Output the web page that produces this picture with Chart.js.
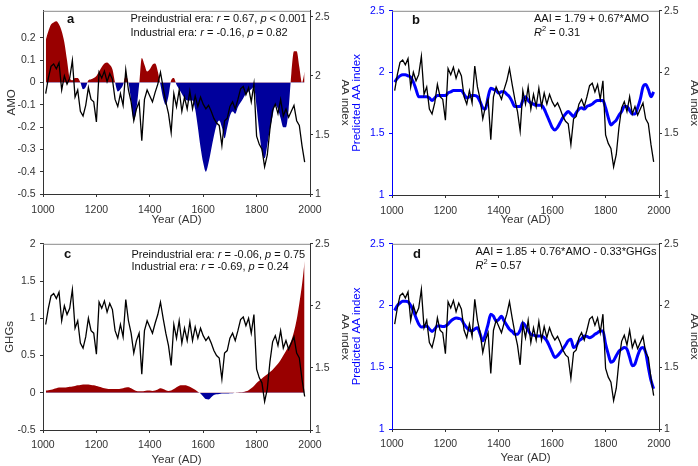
<!DOCTYPE html>
<html>
<head>
<meta charset="utf-8">
<script src="https://cdn.jsdelivr.net/npm/chart.js@4.4.0/dist/chart.umd.min.js"></script>
<style>
  body { margin: 0; background: #fff; width: 698px; height: 466px; position: relative; overflow: hidden; }
  canvas { position: absolute; display: block; }
</style>
</head>
<body>
<canvas id="ca" width="349" height="233" style="left:0;top:0"></canvas>
<canvas id="cb" width="349" height="233" style="left:349px;top:0"></canvas>
<canvas id="cc" width="349" height="233" style="left:0;top:233px"></canvas>
<canvas id="cd" width="349" height="233" style="left:349px;top:233px"></canvas>
<script>
// decadal years shared by every series
const years = [
  1010, 1020, 1030, 1040, 1050, 1060, 1070, 1080, 1090, 1100,
  1110, 1120, 1130, 1140, 1150, 1160, 1170, 1180, 1190, 1200,
  1210, 1220, 1230, 1240, 1250, 1260, 1270, 1280, 1290, 1300,
  1310, 1320, 1330, 1340, 1350, 1360, 1370, 1380, 1390, 1400,
  1410, 1420, 1430, 1440, 1450, 1460, 1470, 1480, 1490, 1500,
  1510, 1520, 1530, 1540, 1550, 1560, 1570, 1580, 1590, 1600,
  1610, 1620, 1630, 1640, 1650, 1660, 1670, 1680, 1690, 1700,
  1710, 1720, 1730, 1740, 1750, 1760, 1770, 1780, 1790, 1800,
  1810, 1820, 1830, 1840, 1850, 1860, 1870, 1880, 1890, 1900,
  1910, 1920, 1930, 1940, 1950, 1960, 1970, 1980
];

// observed AA index (black line, all panels)
const aaIndex = [
  1.85, 1.98, 2.08, 2.10, 2.06, 2.11, 1.88, 2.00, 1.93, 1.98,
  2.13, 1.82, 1.88, 1.70, 1.66, 1.75, 1.90, 1.80, 1.78, 1.61,
  2.03, 1.98, 2.04, 1.95, 2.02, 1.97, 1.80, 1.74, 1.85, 1.75,
  2.05, 1.88, 1.78, 1.62, 1.72, 1.78, 1.45, 1.80, 1.88, 1.83,
  1.78, 1.86, 1.93, 2.03, 1.90, 1.78, 1.68, 1.52, 1.85, 1.74,
  1.88, 1.70, 1.82, 1.72, 1.87, 1.72, 1.83, 1.74, 1.82, 1.76,
  1.72, 1.75, 1.70, 1.64, 1.60, 1.58, 1.41, 1.62, 1.64, 1.74,
  1.78, 1.72, 1.80, 1.89, 1.91, 1.84, 1.90, 1.78, 1.93, 1.49,
  1.42, 1.38, 1.23, 1.33, 1.55, 1.71, 1.76, 1.68, 1.80, 1.66,
  1.72, 1.65, 1.70, 1.75, 1.62, 1.58, 1.41, 1.27
];

// AMO (panel a fill)
const amo = [
  0.19, 0.23, 0.26, 0.27, 0.275, 0.26, 0.23, 0.18, 0.10, 0.02,
  0.01, 0.02, 0.02, 0.0, -0.03, -0.02, 0.01, 0.015, 0.02, 0.03,
  0.05, 0.07, 0.085, 0.09, 0.08, 0.06, 0.0, -0.04, -0.03, -0.01,
  0.03, 0.0, -0.08, -0.17, -0.12, -0.01, 0.11, 0.08, 0.05, 0.06,
  0.08, 0.085, 0.05, -0.01, -0.07, -0.10, -0.06, 0.01, 0.02, -0.01,
  -0.03, -0.05, -0.07, -0.08, -0.08, -0.08, -0.12, -0.20, -0.29, -0.36,
  -0.40, -0.36, -0.30, -0.24, -0.19, -0.17, -0.20, -0.25, -0.20, -0.15,
  -0.13, -0.14, -0.11, -0.09, -0.07, -0.05, -0.04, -0.03, -0.02, -0.11,
  -0.22, -0.31, -0.34, -0.28, -0.21, -0.15, -0.10, -0.12, -0.16, -0.20,
  -0.20, -0.12, 0.04, 0.14, 0.14, 0.07, 0.0, 0.05
];

// GHGs (panel c fill)
const ghgs = [
  0.03, 0.035, 0.04, 0.05, 0.06, 0.07, 0.07, 0.07, 0.075, 0.08,
  0.085, 0.09, 0.10, 0.105, 0.11, 0.11, 0.11, 0.105, 0.10, 0.09,
  0.08, 0.07, 0.06, 0.055, 0.05, 0.05, 0.05, 0.05, 0.055, 0.06,
  0.07, 0.075, 0.06, 0.04, 0.025, 0.02, 0.02, 0.025, 0.03, 0.03,
  0.025, 0.03, 0.045, 0.06, 0.05, 0.035, 0.025, 0.03, 0.05, 0.075,
  0.095, 0.10, 0.10, 0.095, 0.08, 0.06, 0.04, 0.015, -0.01, -0.05,
  -0.085, -0.09, -0.06, -0.03, -0.02, -0.015, -0.01, -0.01, -0.01, -0.005,
  -0.005, 0.0, 0.003, 0.006, 0.01, 0.02, 0.035, 0.06, 0.09, 0.13,
  0.16, 0.19, 0.22, 0.25, 0.28, 0.31, 0.35, 0.39, 0.44, 0.50,
  0.56, 0.62, 0.70, 0.82, 0.98, 1.20, 1.45, 1.77
];

// predicted AA index, AMO only (panel b)
const predB = [
  1.92, 1.95, 1.97, 1.98, 1.98, 1.97, 1.96, 1.92, 1.86, 1.80,
  1.80, 1.80, 1.80, 1.79, 1.77, 1.79, 1.81, 1.81, 1.81, 1.81,
  1.83, 1.84, 1.85, 1.85, 1.85, 1.85, 1.82, 1.79, 1.80, 1.81,
  1.81, 1.80, 1.76, 1.71, 1.70, 1.80, 1.87, 1.86, 1.85, 1.83,
  1.84, 1.84, 1.82, 1.80, 1.76, 1.72, 1.72, 1.72, 1.77, 1.80,
  1.77, 1.75, 1.74, 1.73, 1.73, 1.73, 1.70, 1.65, 1.60, 1.55,
  1.53, 1.55, 1.59, 1.63, 1.66, 1.68, 1.66, 1.64, 1.67, 1.70,
  1.71, 1.70, 1.72, 1.73, 1.74, 1.76, 1.77, 1.77, 1.77, 1.71,
  1.63, 1.57, 1.59, 1.61, 1.65, 1.68, 1.72, 1.72, 1.69, 1.66,
  1.66, 1.71, 1.78, 1.88, 1.90, 1.86, 1.80, 1.84
];

// predicted AA index, AMO + GHGs (panel d)
const predD = [
  1.96, 2.00, 2.02, 2.035, 2.035, 2.03, 2.00, 1.955, 1.90, 1.85,
  1.826, 1.83, 1.834, 1.81, 1.79, 1.81, 1.834, 1.834, 1.83, 1.834,
  1.85, 1.874, 1.89, 1.90, 1.895, 1.888, 1.85, 1.82, 1.80, 1.795,
  1.81, 1.82, 1.77, 1.714, 1.77, 1.85, 1.93, 1.914, 1.874, 1.888,
  1.914, 1.874, 1.84, 1.807, 1.79, 1.767, 1.767, 1.80, 1.861, 1.834,
  1.80, 1.767, 1.76, 1.754, 1.754, 1.754, 1.74, 1.714, 1.67, 1.62,
  1.58, 1.594, 1.62, 1.647, 1.68, 1.714, 1.727, 1.66, 1.674, 1.714,
  1.73, 1.754, 1.75, 1.74, 1.75, 1.767, 1.78, 1.794, 1.794, 1.687,
  1.607, 1.54, 1.553, 1.594, 1.63, 1.647, 1.66, 1.647, 1.58, 1.513,
  1.527, 1.594, 1.647, 1.66, 1.62, 1.50, 1.393, 1.326
];

const FONT = '"Liberation Sans", Arial, sans-serif';
const RED = '#990000', NAVY = '#00009c', BLUE = '#0000ff', INK = '#333';

const pts = vals => years.map((yr, i) => ({ x: yr, y: vals[i] }));
const fmt = v => String(Math.round(v * 100) / 100);

function drawRich(ctx, x, y, parts, size) {
  let cx = x;
  parts.forEach(([t, st]) => {
    let fs = size, dy = 0, style = '';
    if (st === 'i') style = 'italic ';
    if (st === 'b') style = 'bold ';
    if (st === 'sup') { fs = size * 0.68; dy = -size * 0.38; }
    ctx.font = style + fs + 'px ' + FONT;
    ctx.fillText(t, cx, y + dy);
    cx += ctx.measureText(t).width;
  });
}

// top frame line + panel letters and equations
const deco = {
  id: 'deco',
  afterDraw(chart, args, opts) {
    const { ctx, chartArea: a } = chart;
    ctx.save();
    ctx.strokeStyle = '#8a8a8a';
    ctx.lineWidth = 1;
    ctx.beginPath();
    ctx.moveTo(a.left, a.top + 0.5);
    ctx.lineTo(a.right, a.top + 0.5);
    ctx.stroke();
    ctx.fillStyle = '#111';
    ctx.textBaseline = 'middle';
    (opts.notes || []).forEach(n => drawRich(ctx, n.x, n.y, n.parts, n.size || 11));
    ctx.restore();
  }
};

function xAxis(h, tickPad, titlePad) {
  return {
    type: 'linear', position: 'bottom', min: 1000, max: 2000,
    afterFit(s) { s.height = h; },
    ticks: { stepSize: 200, padding: tickPad, color: INK, maxRotation: 0,
             font: { family: FONT, size: 10.5 }, callback: v => String(v) },
    grid: { drawOnChartArea: false, drawTicks: true, tickLength: 3, color: INK },
    border: { display: true, color: INK },
    title: { display: true, text: 'Year (AD)', color: INK,
             font: { family: FONT, size: 11.5 }, padding: { top: 0, bottom: titlePad } }
  };
}

function yAxis(pos, min, max, step, w, title, titlePad, color, topCut) {
  const ax = {
    type: 'linear', position: pos, min: min, max: max,
    afterFit(s) { s.width = w; },
    ticks: { stepSize: step, includeBounds: false, padding: pos === 'left' ? 4.5 : 2,
             color: color, font: { family: FONT, size: 10.5 }, callback: v => fmt(v) },
    grid: { drawOnChartArea: false, drawTicks: true, tickLength: 3, color: color },
    border: { display: true, color: color },
    title: { display: true, text: title, color: color,
             font: { family: FONT, size: 11.5 }, padding: { top: titlePad, bottom: 0 } }
  };
  if (topCut !== undefined) {
    ax.afterBuildTicks = s => { s.ticks = s.ticks.filter(t => t.value <= topCut); };
  }
  return ax;
}

function panel(id, top, datasets, scales, notes) {
  return new Chart(document.getElementById(id), {
    type: 'line',
    data: { datasets: datasets },
    options: {
      responsive: false,
      animation: false,
      layout: { padding: { top: top, left: 0, right: 0, bottom: 0 } },
      plugins: { legend: { display: false }, tooltip: { enabled: false }, deco: { notes: notes } },
      scales: scales
    },
    plugins: [deco]
  });
}

const blackLine = () => ({ data: pts(aaIndex), yAxisID: 'y2', borderColor: '#000', borderWidth: 1.3,
                           pointRadius: 0, fill: false, tension: 0 });
const blueLine = vals => ({ data: pts(vals), yAxisID: 'y', borderColor: BLUE, borderWidth: 3,
                            pointRadius: 0, fill: false, cubicInterpolationMode: 'monotone' });
const areaFill = vals => ({ data: pts(vals), yAxisID: 'y', borderWidth: 0, borderColor: 'rgba(0,0,0,0)',
                            pointRadius: 0, cubicInterpolationMode: 'monotone',
                            fill: { target: 'origin', above: RED, below: NAVY } });

// a
panel('ca', 1, [blackLine(), areaFill(amo)], {
  x: xAxis(39, 6.7, 6.1),
  y: yAxis('left', -0.5, 0.322, 0.1, 43, 'AMO', 4.8, INK, 0.25),
  y2: yAxis('right', 1, 2.55, 0.5, 39, 'AA index', -3.4, INK)
}, [
  { x: 67, y: 19, size: 13, parts: [['a', 'b']] },
  { x: 130.5, y: 18.5, parts: [['Preindustrial era: '], ['r', 'i'], [' = 0.67, '], ['p', 'i'], [' < 0.001']] },
  { x: 130.5, y: 32.5, parts: [['Industrial era: '], ['r', 'i'], [' = -0.16, '], ['p', 'i'], [' = 0.82']] }
]);

// b
panel('cb', 7, [blackLine(), blueLine(predB)], {
  x: xAxis(38, 6.4, 6.1),
  y: yAxis('left', 1, 2.5, 0.5, 43, 'Predicted AA index', 1.4, BLUE),
  y2: yAxis('right', 1, 2.5, 0.5, 39, 'AA index', -3.4, INK)
}, [
  { x: 63, y: 20.5, size: 13, parts: [['b', 'b']] },
  { x: 185, y: 18.5, parts: [['AAI = 1.79 + 0.67*AMO']] },
  { x: 185, y: 33, parts: [['R', 'i'], ['2', 'sup'], [' = 0.31']] }
]);

// c
panel('cc', 9, [blackLine(), areaFill(ghgs)], {
  x: xAxis(36, 5.4, -0.6),
  y: yAxis('left', -0.5, 2, 0.5, 43, 'GHGs', 3.1, INK),
  y2: yAxis('right', 1, 2.5, 0.5, 39, 'AA index', -3.4, INK)
}, [
  { x: 64, y: 21.5, size: 13, parts: [['c', 'b']] },
  { x: 131.5, y: 21.5, parts: [['Preindustrial era: '], ['r', 'i'], [' = -0.06, '], ['p', 'i'], [' = 0.75']] },
  { x: 131.5, y: 33.5, parts: [['Industrial era: '], ['r', 'i'], [' = -0.69, '], ['p', 'i'], [' = 0.24']] }
]);

// d
panel('cd', 8, [blackLine(), blueLine(predD)], {
  x: xAxis(37, 5.4, 1.1),
  y: yAxis('left', 1, 2.5, 0.5, 43, 'Predicted AA index', 1.4, BLUE),
  y2: yAxis('right', 1, 2.5, 0.5, 39, 'AA index', -3.4, INK)
}, [
  { x: 64, y: 21, size: 13, parts: [['d', 'b']] },
  { x: 126.5, y: 19, parts: [['AAI = 1.85 + 0.76*AMO - 0.33*GHGs']] },
  { x: 126.5, y: 33.3, parts: [['R', 'i'], ['2', 'sup'], [' = 0.57']] }
]);
</script>
</body>
</html>
